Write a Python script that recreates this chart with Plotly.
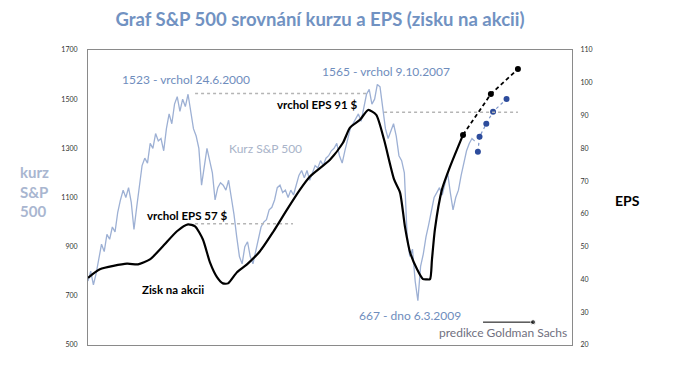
import plotly.graph_objects as go

# S&P 500 index (left axis), decimal years
sp_years = [round(1997.0 + 0.1 * i, 1) for i in range(144)]
sp_values = [760, 800, 745, 790, 850, 910, 880, 950, 930, 980,
             960, 1040, 1090, 1130, 1100, 1140, 1080, 970, 1060, 1150,
             1230, 1260, 1240, 1320, 1300, 1360, 1330, 1340, 1290, 1380,
             1440, 1400, 1480, 1510, 1450, 1500, 1470, 1520, 1440, 1380,
             1350, 1300, 1150, 1230, 1300, 1250, 1200, 1090, 1140, 1160,
             1150, 1130, 1170, 1100, 1030, 940, 860, 830, 900, 920,
             860, 830, 880, 930, 980, 1000, 1010, 1050, 1060, 1090,
             1140, 1150, 1120, 1130, 1100, 1130, 1110, 1150, 1190, 1210,
             1180, 1210, 1170, 1200, 1230, 1220, 1250, 1230, 1260, 1270,
             1290, 1300, 1320, 1270, 1240, 1290, 1340, 1380, 1400, 1420,
             1440, 1410, 1470, 1520, 1540, 1480, 1500, 1560, 1550, 1470,
             1380, 1340, 1370, 1400, 1350, 1270, 1250, 1200, 950, 860,
             890, 760, 680, 820, 870, 940, 990, 1050, 1100, 1120,
             1140, 1110, 1160, 1200, 1120, 1050, 1100, 1130, 1190, 1240,
             1290, 1320, 1340, 1330]

# S&P projection (Goldman Sachs)
sp_proj_years = [2011.42, 2011.48, 2011.73, 2011.98, 2012.48]
sp_proj_values = [1286, 1347, 1400, 1449, 1501]

# EPS (right axis)
eps_years = [1997.0, 1997.44, 1998.44, 1998.85, 1999.29, 1999.77, 2000.29, 2000.70,
             2000.96, 2001.25, 2001.51, 2001.77, 2001.99, 2002.18, 2002.51, 2002.88,
             2003.36, 2003.84, 2004.36, 2004.84, 2005.21, 2005.95, 2006.43, 2006.69,
             2007.06, 2007.36, 2007.66, 2007.95, 2008.32, 2008.54, 2008.72, 2008.91,
             2009.17, 2009.39, 2009.52, 2009.65, 2009.72, 2009.83, 2010.09, 2010.39, 2010.87]
eps_values = [40.5, 43.1, 44.8, 44.6, 46.1, 50.1, 54.7, 56.8,
              56.2, 52.2, 45.2, 40.7, 38.8, 38.8, 42.2, 44.6,
              48.6, 54.4, 61.3, 67.4, 71.4, 76.5, 81.7, 86.3,
              88.7, 91.7, 90.2, 82.6, 70.5, 66.5, 56.2, 48.3,
              43.1, 40.1, 40.0, 40.1, 46.0, 55.3, 67.4, 74.4, 84.1]

# EPS projection
eps_proj_years = [2010.87, 2011.90, 2012.90]
eps_proj_values = [84.1, 96.6, 104.2]

# reference levels
sp_peak_level = 1523
eps_peak2_level = 91
eps_peak1_level = 57

left_ticks = [500, 700, 900, 1100, 1300, 1500, 1700]
right_ticks = [20, 30, 40, 50, 60, 70, 80, 90, 100, 110]

FONT = "Lato"
BLUE = "#6f8dbd"

fig = go.Figure()

# dotted reference lines
fig.add_trace(go.Scatter(x=[2000.96, 2007.36], y=[sp_peak_level] * 2, mode="lines",
                         line=dict(color="#b5b5b5", width=1.5, dash="dot"), hoverinfo="skip"))
fig.add_trace(go.Scatter(x=[2007.95, 2012.90], y=[eps_peak2_level] * 2, mode="lines", yaxis="y2",
                         line=dict(color="#b5b5b5", width=1.5, dash="dot"), hoverinfo="skip"))
fig.add_trace(go.Scatter(x=[2000.96, 2004.58], y=[eps_peak1_level] * 2, mode="lines", yaxis="y2",
                         line=dict(color="#b5b5b5", width=1.5, dash="dot"), hoverinfo="skip"))

# S&P line
fig.add_trace(go.Scatter(x=sp_years, y=sp_values, mode="lines",
                         line=dict(color="#9db0d4", width=1.3)))
# S&P projection
fig.add_trace(go.Scatter(x=sp_proj_years, y=sp_proj_values, mode="lines+markers",
                         line=dict(color="#7d95c8", width=1.2, dash="dot"),
                         marker=dict(color="#2d4c9c", size=6)))
# EPS line
fig.add_trace(go.Scatter(x=eps_years, y=eps_values, mode="lines", yaxis="y2",
                         line=dict(color="black", width=2.2, shape="spline", smoothing=0.6)))
# EPS projection
fig.add_trace(go.Scatter(x=eps_proj_years, y=eps_proj_values, mode="lines+markers", yaxis="y2",
                         line=dict(color="black", width=1.8, dash="4px,3px"),
                         marker=dict(color="black", size=6)))
# arrow for legend of prediction
fig.add_trace(go.Scatter(x=[2011.61, 2013.46], y=[593, 593], mode="lines+markers",
                         line=dict(color="black", width=1),
                         marker=dict(color="black", size=[0, 5])))

ann = [
    dict(x=1998.18, y=1582, text="1523 - vrchol 24.6.2000", color=BLUE, bold=False),
    dict(x=2005.58, y=1611, text="1565 - vrchol 9.10.2007", color=BLUE, bold=False),
    dict(x=2003.92, y=1477, text="vrchol EPS 91 $", color="black", bold=True),
    dict(x=2002.14, y=1299, text="Kurz S&P 500", color="#a9b4c9", bold=False),
    dict(x=1999.11, y=1027, text="vrchol EPS 57 $", color="black", bold=True),
    dict(x=1998.92, y=727, text="Zisk na akcii", color="black", bold=True),
    dict(x=2006.95, y=622, text="667 - dno 6.3.2009", color=BLUE, bold=False),
    dict(x=2009.91, y=549, text="predikce Goldman Sachs", color="#707080", bold=False),
]
annotations = []
for a in ann:
    txt = "<b>" + a["text"] + "</b>" if a["bold"] else a["text"]
    annotations.append(dict(x=a["x"], y=a["y"], xref="x", yref="y", text=txt,
                            showarrow=False, xanchor="left", yanchor="middle",
                            font=dict(family=FONT, size=11.5 if a["bold"] else 12,
                                      color=a["color"])))
annotations.append(dict(x=-0.1446, y=0.519, xref="paper", yref="paper",
                        text="<b>kurz<br>S&P<br>500</b>", showarrow=False, align="left",
                        xanchor="left", yanchor="middle",
                        font=dict(family=FONT, size=15, color="#a9b6d0")))
annotations.append(dict(x=1.0847, y=0.4915, xref="paper", yref="paper",
                        text="<b>EPS</b>", showarrow=False, xanchor="left", yanchor="middle",
                        font=dict(family=FONT, size=14, color="black")))

fig.update_layout(
    width=671, height=372,
    margin=dict(l=80, r=107, t=42, b=35),
    paper_bgcolor="white", plot_bgcolor="white",
    showlegend=False,
    title=dict(text="<b>Graf S&P 500 srovnání kurzu a EPS (zisku na akcii)</b>",
               x=0.465, xanchor="center", y=0.968, yanchor="middle",
               font=dict(family=FONT, size=18.5, color="#7192c2")),
    xaxis=dict(range=[1997.0, 2014.9], showgrid=False, zeroline=False,
               showticklabels=False, ticks="", showline=True, linecolor="#8a8a8a",
               linewidth=1, mirror=True),
    yaxis=dict(range=[500, 1700], tickvals=left_ticks, showgrid=False, zeroline=False,
               tickfont=dict(family=FONT, size=7, color="#333333"),
               showline=True, linecolor="#8a8a8a", linewidth=1, ticks="", ticklabelstandoff=8),
    yaxis2=dict(range=[20, 110], tickvals=right_ticks, overlaying="y", side="right",
                showgrid=False, zeroline=False,
                tickfont=dict(family=FONT, size=7, color="#333333"),
                showline=True, linecolor="#8a8a8a", linewidth=1, ticks="", ticklabelstandoff=6),
    annotations=annotations,
)

fig.write_html("out.html")
